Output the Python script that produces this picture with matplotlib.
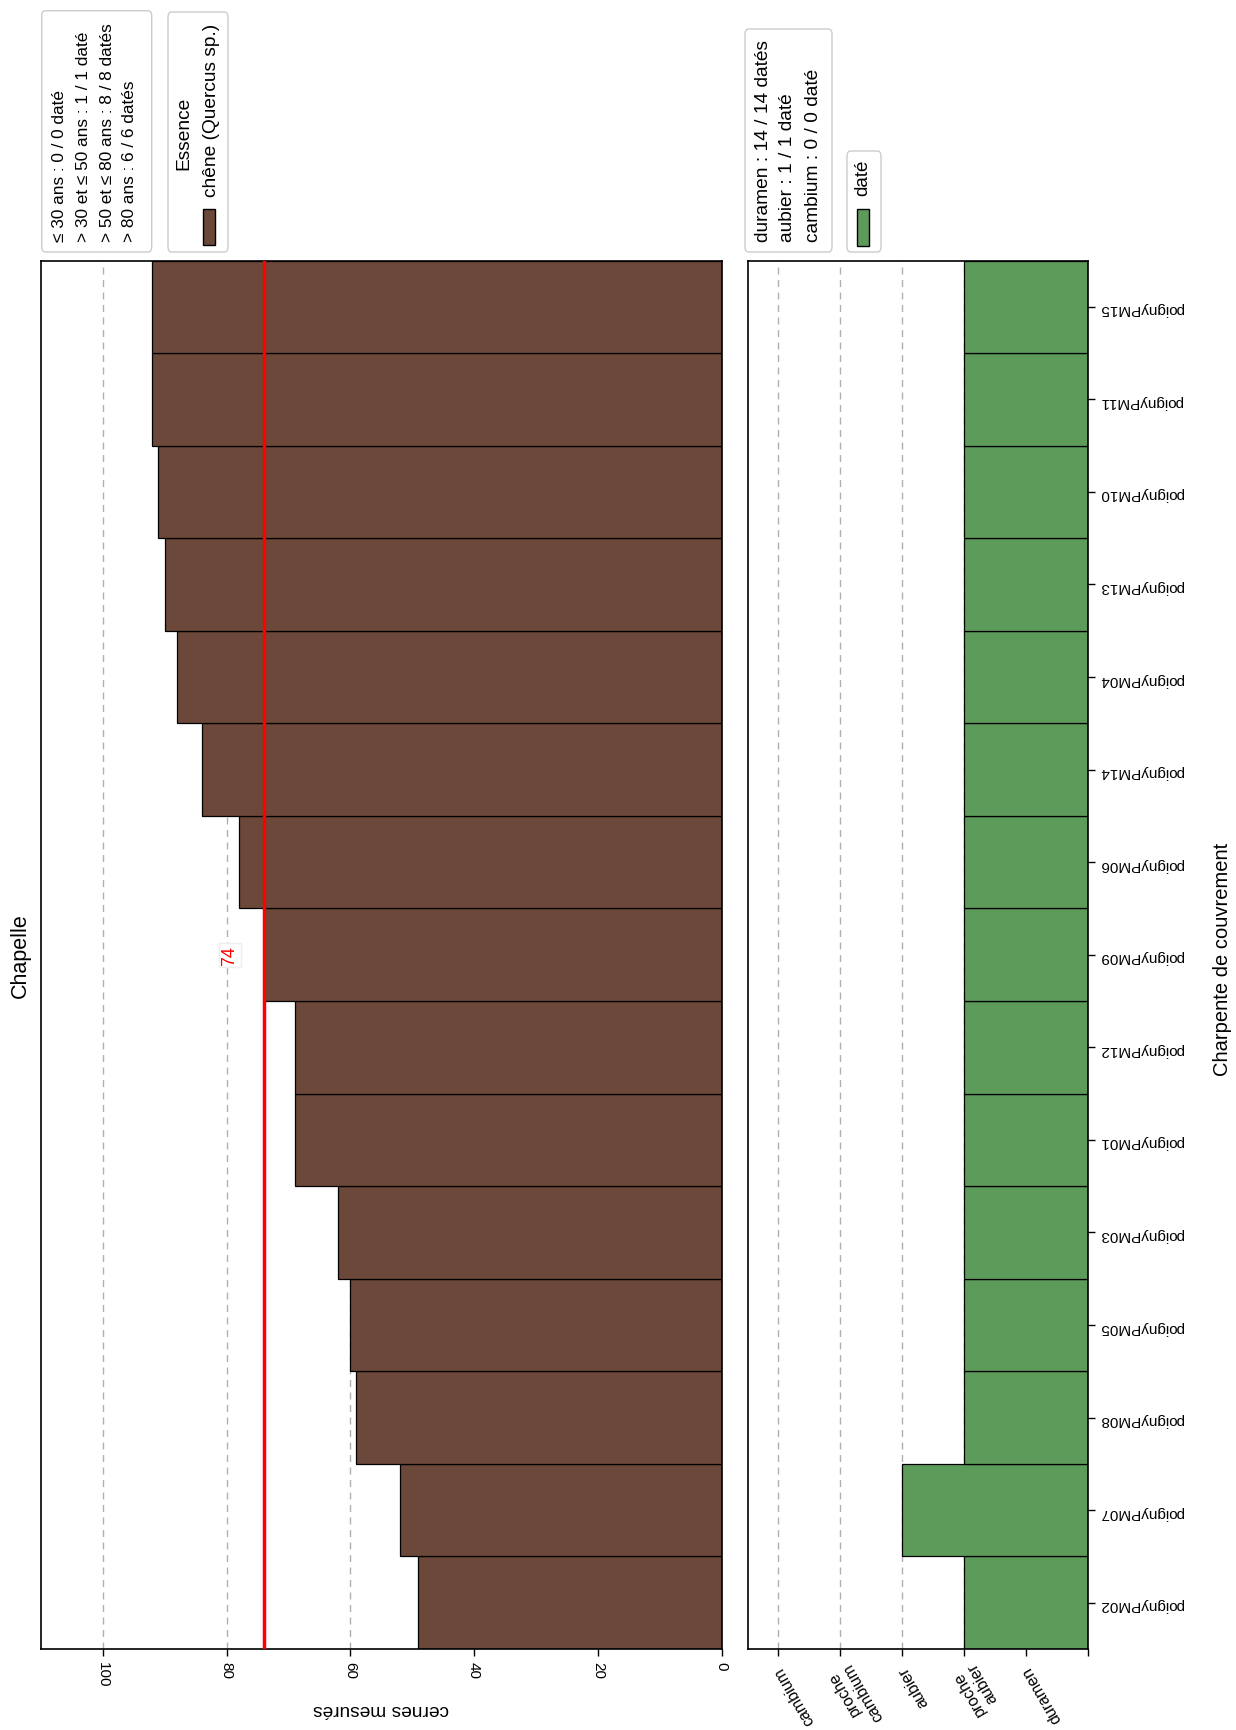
import matplotlib
matplotlib.use("Agg")
import matplotlib.pyplot as plt
from matplotlib.patches import FancyBboxPatch, Rectangle
import numpy as np

plt.rcParams['font.family'] = ['Liberation Sans', 'DejaVu Sans']

# ---- data ----
samples = ["poignyPM02", "poignyPM07", "poignyPM08", "poignyPM05", "poignyPM03",
           "poignyPM01", "poignyPM12", "poignyPM09", "poignyPM06", "poignyPM14",
           "poignyPM04", "poignyPM13", "poignyPM10", "poignyPM11", "poignyPM15"]
rings = [49, 52, 59, 60, 62, 69, 69, 74, 78, 84, 88, 90, 91, 92, 92]
state = [2, 3, 2, 2, 2, 2, 2, 2, 2, 2, 2, 2, 2, 2, 2]
state_ticks = [0, 1, 2, 3, 4, 5]
state_labels = ["", "duramen", "proche\naubier", "aubier", "proche\ncambium", "cambium"]
ring_ticks = [0, 20, 40, 60, 80, 100]
age_legend = ["≤ 30 ans : 0 / 0 daté", "> 30 et ≤ 50 ans : 1 / 1 daté",
              "> 50 et ≤ 80 ans : 8 / 8 datés", "> 80 ans : 6 / 6 datés"]
state_legend = ["duramen : 14 / 14 datés", "aubier : 1 / 1 daté", "cambium : 0 / 0 daté"]

BROWN = "#6b4839"
GREEN = "#5d9b5b"
W, H = 1236, 1731

fig = plt.figure(figsize=(W / 100, H / 100), dpi=100)

def ax_rect(l, r, t, b):
    return [l / W, 1 - b / H, (r - l) / W, (b - t) / H]

# full-pixel coordinates
ax1 = fig.add_axes(ax_rect(40.8, 721.7, 261.5, 1650))
ax2 = fig.add_axes(ax_rect(748.2, 1088.1, 261.5, 1650))

y = np.arange(len(samples))

# brown panel
ax1.set_axisbelow(True)
ax1.xaxis.grid(True, linestyle=(0, (5, 4)), color="#b0b0b0", lw=1)
ax1.barh(y, rings, height=1.0, color=BROWN, edgecolor="black", lw=0.9, zorder=2)
mean = np.mean(rings)
ax1.axvline(mean, color="red", lw=2.5, zorder=3)
ax1.text(mean + 5.5, 7, f"{round(mean)}", rotation=90, color="red", fontsize=13,
         ha="center", va="center", zorder=4,
         bbox=dict(facecolor="white", edgecolor="#eeeeee", pad=1.5))
ax1.set_xlim(110, 0)
ax1.set_ylim(-0.5, len(samples) - 0.5)
ax1.set_xticks(ring_ticks)
ax1.set_xticklabels([str(t) for t in ring_ticks], rotation=-90, fontsize=11)
ax1.set_yticks([])
ax1.tick_params(axis="x", length=5, width=1)
ax1.set_xlabel("cernes mesurés", rotation=180, fontsize=13.8, labelpad=10)
for sp in ax1.spines.values():
    sp.set_linewidth(1.2)

# green panel
ax2.set_axisbelow(True)
ax2.xaxis.grid(True, linestyle=(0, (5, 4)), color="#b0b0b0", lw=1)
ax2.barh(y, state, height=1.0, color=GREEN, edgecolor="black", lw=0.9, zorder=2)
ax2.set_xlim(5.48, 0)
ax2.set_ylim(-0.5, len(samples) - 0.5)
ax2.set_xticks(state_ticks)
ax2.set_xticklabels(state_labels, rotation=120, ha="right", va="center",
                    rotation_mode="anchor", fontsize=11.5)
ax2.tick_params(axis="x", length=5, width=1, pad=8)
ax2.yaxis.tick_right()
ax2.set_yticks(y)
ax2.set_yticklabels(samples, rotation=180, fontsize=11)
ax2.tick_params(axis="y", length=5, width=1)
for sp in ax2.spines.values():
    sp.set_linewidth(1.2)

def fxy(xs, ys):
    return xs / W, 1 - ys / H

# title and side label
tx, ty = fxy(20, 956)
fig.text(tx, ty, "Chapelle", rotation=90, fontsize=15.5, ha="center", va="center")
tx, ty = fxy(1222, 959)
fig.text(tx, ty, "Charpente de couvrement", rotation=90, fontsize=14.5, ha="center", va="center")

def box(l, r, t, b):
    x0, y1 = fxy(l, t)
    x1, y0 = fxy(r, b)
    p = FancyBboxPatch((x0, y0), x1 - x0, y1 - y0, boxstyle="round,pad=0,rounding_size=0.003",
                       transform=fig.transFigure, facecolor="white", edgecolor="#cccccc", lw=1)
    fig.patches.append(p)

def patch(l, r, t, b, color):
    x0, y1 = fxy(l, t)
    x1, y0 = fxy(r, b)
    p = Rectangle((x0, y0), x1 - x0, y1 - y0, transform=fig.transFigure,
                  facecolor=color, edgecolor="black", lw=1)
    fig.patches.append(p)

# legend 1 : age classes
box(41.7, 151.7, 11.7, 253)
for xs, txt in zip([60, 84, 107, 130], age_legend):
    tx, ty = fxy(xs, 242)
    fig.text(tx, ty, txt, rotation=90, fontsize=12.4, ha="center", va="bottom")

# legend 2 : essence
box(168, 228, 13, 253)
tx, ty = fxy(184, 133)
fig.text(tx, ty, "Essence", rotation=90, fontsize=13.8, ha="center", va="center")
tx, ty = fxy(212, 197)
fig.text(tx, ty, "chêne (Quercus sp.)", rotation=90, fontsize=13.8, ha="center", va="bottom")
patch(203, 215, 210, 246, BROWN)

# legend 3 : state counts
box(745, 832, 30, 253)
for xs, txt in zip([763, 788, 813], state_legend):
    tx, ty = fxy(xs, 242)
    fig.text(tx, ty, txt, rotation=90, fontsize=13.8, ha="center", va="bottom")

# legend 4 : daté
box(847, 881, 152, 253)
tx, ty = fxy(863, 196)
fig.text(tx, ty, "daté", rotation=90, fontsize=13.5, ha="center", va="bottom")
patch(857, 869, 210, 247, GREEN)

fig.savefig("out.png", dpi=100)
